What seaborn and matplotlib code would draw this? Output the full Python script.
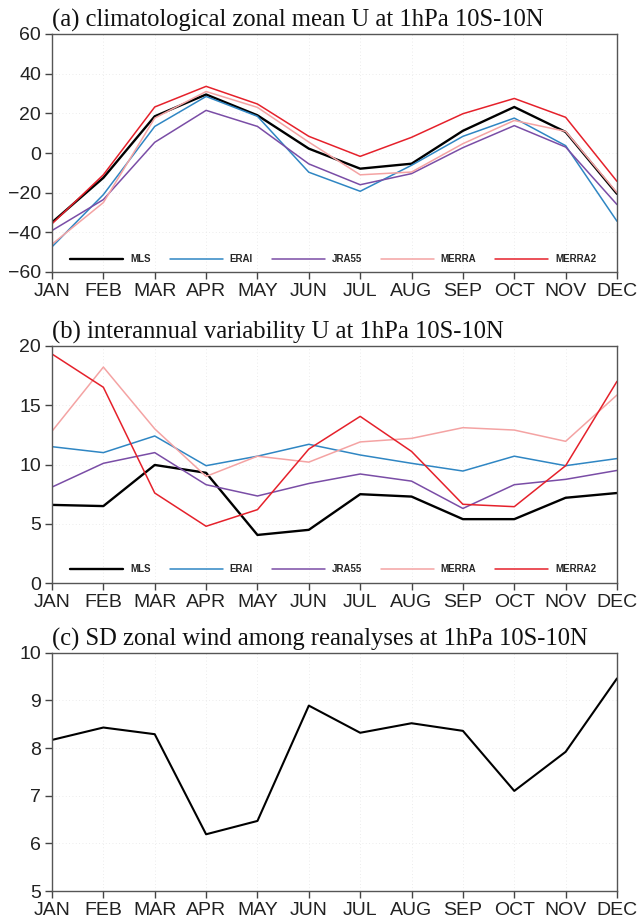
import matplotlib
matplotlib.use("Agg")
import matplotlib.pyplot as plt
import seaborn as sns
import pandas as pd
from matplotlib import font_manager as fm

months = ["JAN", "FEB", "MAR", "APR", "MAY", "JUN", "JUL", "AUG", "SEP", "OCT", "NOV", "DEC"]
datasets = ["MLS", "ERAI", "JRA55", "MERRA", "MERRA2"]

# (a) climatological zonal mean U
u_mls    = [-35, -12.5, 18.5, 29.5, 19, 2.2, -7.9, -5.4, 11.2, 23.2, 10.6, -20.6]
u_erai   = [-47.3, -21, 13.4, 28.5, 18.5, -9.7, -19.3, -6.2, 8.4, 17.6, 3.7, -34.4]
u_jra55  = [-39.1, -23.5, 5.4, 21.5, 13.4, -5.5, -16, -10.4, 2.7, 13.8, 3, -26]
u_merra  = [-46, -25, 17.6, 31, 23, 5.5, -11, -9.6, 4.7, 16.4, 10.9, -20]
u_merra2 = [-35.7, -11, 23.2, 33.6, 24.7, 8.4, -1.7, 7.9, 19.8, 27.5, 18, -14.3]

# (b) interannual variability U
v_mls    = [6.6, 6.5, 9.96, 9.3, 4.07, 4.5, 7.5, 7.3, 5.4, 5.4, 7.2, 7.6]
v_erai   = [11.5, 11.0, 12.4, 9.9, 10.7, 11.7, 10.8, 10.1, 9.45, 10.7, 9.9, 10.5]
v_jra55  = [8.1, 10.1, 11.0, 8.3, 7.35, 8.4, 9.2, 8.6, 6.3, 8.3, 8.75, 9.5]
v_merra  = [12.8, 18.2, 13.0, 9.0, 10.7, 10.2, 11.9, 12.2, 13.1, 12.9, 11.95, 15.85]
v_merra2 = [19.3, 16.5, 7.6, 4.8, 6.2, 11.3, 14.05, 11.1, 6.65, 6.45, 9.9, 17.0]

# (c) SD zonal wind among reanalyses
sd = [8.17, 8.43, 8.29, 6.19, 6.47, 8.89, 8.32, 8.52, 8.36, 7.1, 7.92, 9.46]

colors = {"MLS": "#000000", "ERAI": "#2f86c3", "JRA55": "#7a4da6",
          "MERRA": "#f4a3a3", "MERRA2": "#e5212b"}
widths = {"MLS": 1.7, "ERAI": 1.1, "JRA55": 1.1, "MERRA": 1.1, "MERRA2": 1.1}

sns.set_theme(style="white")
avail = {f.name for f in fm.fontManager.ttflist}
tick_font = "Liberation Sans Narrow" if "Liberation Sans Narrow" in avail else "Liberation Sans"
plt.rcParams["font.family"] = ["DejaVu Sans"]

fig = plt.figure(figsize=(6.44, 9.17), dpi=100)
W, H = 644, 917
def add_ax(top, bottom):
    return fig.add_axes([52 / W, 1 - bottom / H, 565 / W, (bottom - top) / H])

axa = add_ax(34, 272)
axb = add_ax(345.7, 583.3)
axc = add_ax(652.7, 891)

def long_df(series):
    rows = []
    for name, vals in zip(datasets, series):
        for i, v in enumerate(vals):
            rows.append({"month": i, "value": v, "dataset": name})
    return pd.DataFrame(rows)

def style(ax, ylim, yticks, title):
    ax.set_xlim(0, 11)
    ax.set_ylim(*ylim)
    ax.set_xticks(range(12))
    ax.set_xticklabels(months)
    ax.set_yticks(yticks)
    ax.set_yticklabels([str(t).replace("-", "\u2212") for t in yticks])
    for lab in ax.get_xticklabels() + ax.get_yticklabels():
        lab.set_fontfamily(tick_font)
        lab.set_fontsize(14)
        lab.set_color("#222222")
    ax.tick_params(axis="both", direction="out", length=5, width=1, color="#444444", pad=3,
                   bottom=True, left=True)
    for s in ax.spines.values():
        s.set_color("#555555")
        s.set_linewidth(1)
    ax.grid(True, linestyle=(0, (1, 3)), color="#e6e6e6", linewidth=0.6)
    ax.set_xlabel("")
    ax.set_ylabel("")
    ax.set_title(title, loc="left", fontfamily="Liberation Serif", fontsize=17.7, pad=5, color="#111111")

def legend(ax, y):
    ax.legend(loc="center left", bbox_to_anchor=(0.032, y), ncol=5, frameon=False,
              handlelength=5.45, handletextpad=0.72, columnspacing=1.95, borderpad=0,
              borderaxespad=0,
              prop={"family": "Liberation Sans", "weight": "bold", "size": 7})

dfa = long_df([u_mls, u_erai, u_jra55, u_merra, u_merra2])
dfb = long_df([v_mls, v_erai, v_jra55, v_merra, v_merra2])

for ax, df in [(axa, dfa), (axb, dfb)]:
    for name in datasets:
        sns.lineplot(data=df[df.dataset == name], x="month", y="value", color=colors[name],
                     linewidth=widths[name], label=name, ax=ax)

style(axa, (-60, 60), list(range(-60, 61, 20)), "(a) climatological zonal mean U at 1hPa 10S-10N")
style(axb, (0, 20), list(range(0, 21, 5)), "(b) interannual variability U at 1hPa 10S-10N")
legend(axa, 0.0546)
legend(axb, 0.059)

dfc = pd.DataFrame({"month": range(12), "value": sd})
sns.lineplot(data=dfc, x="month", y="value", color="black", linewidth=1.5, ax=axc)
style(axc, (5, 10), list(range(5, 11)), "(c) SD zonal wind among reanalyses at 1hPa 10S-10N")

fig.savefig("out.png", dpi=100)
